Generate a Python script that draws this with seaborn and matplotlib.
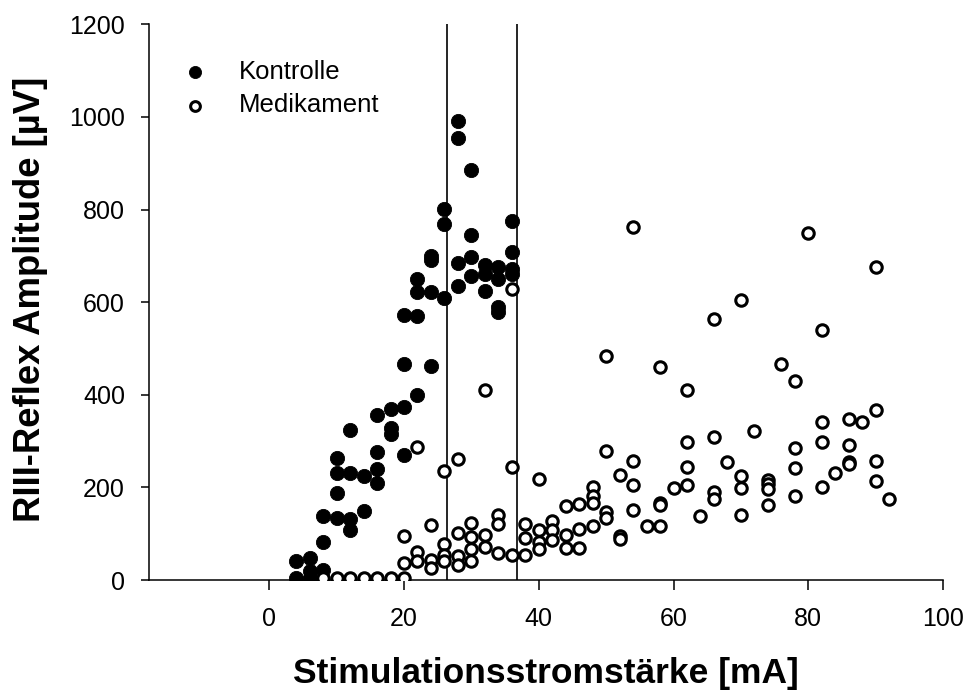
import matplotlib
matplotlib.use("Agg")
import matplotlib.pyplot as plt
import seaborn as sns
import pandas as pd

# ---------------- data ----------------
kontrolle_x = [4, 4, 6, 6, 6, 8, 8, 8, 10, 10, 10, 10, 12, 12, 12, 12, 14, 14,
               16, 16, 16, 16, 18, 18, 18, 20, 20, 20, 20, 22, 22, 22, 22,
               24, 24, 24, 24, 26, 26, 26, 28, 28, 28, 28, 30, 30, 30, 30,
               32, 32, 32, 34, 34, 34, 34, 36, 36, 36, 36]
kontrolle_y = [42, 4, 48, 20, 5, 138, 82, 22, 263, 232, 188, 133, 323, 232, 131, 109, 224, 150,
               356, 277, 239, 210, 369, 329, 315, 466, 374, 269, 573, 400, 650, 621, 571,
               462, 700, 690, 621, 802, 768, 609, 991, 955, 685, 634, 886, 746, 697, 657,
               680, 661, 623, 675, 650, 589, 578, 775, 708, 672, 660]

medikament_x = [8, 10, 12, 14, 16, 18, 20, 20, 20, 22, 22, 22, 24, 24, 24,
                26, 26, 26, 26, 28, 28, 28, 28, 30, 30, 30, 30, 32, 32, 32,
                34, 34, 34, 36, 36, 36, 38, 38, 38, 40, 40, 40, 40, 42, 42, 42,
                44, 44, 44, 46, 46, 46, 48, 48, 48, 48, 50, 50, 50, 50, 52, 52, 52,
                54, 54, 54, 54, 56, 58, 58, 58, 58, 60, 62, 62, 62, 62, 64,
                66, 66, 66, 66, 68, 70, 70, 70, 70, 72, 74, 74, 74, 74, 76,
                78, 78, 78, 78, 80, 82, 82, 82, 82, 84, 86, 86, 86, 86, 88,
                90, 90, 90, 90, 92]
medikament_y = [5, 5, 5, 5, 5, 5, 5, 37, 95, 287, 61, 40, 118, 44, 27,
                235, 77, 55, 40, 262, 102, 51, 33, 123, 92, 67, 42, 410, 97, 71,
                140, 121, 58, 628, 244, 53, 121, 91, 55, 219, 107, 82, 66, 127, 109, 87,
                160, 98, 69, 165, 111, 69, 201, 181, 167, 116, 484, 279, 147, 133, 227, 95, 88,
                762, 258, 206, 152, 116, 459, 167, 162, 116, 198, 411, 299, 244, 206, 138,
                564, 309, 190, 174, 255, 605, 224, 198, 141, 322, 217, 207, 196, 162, 466,
                429, 286, 241, 181, 749, 540, 342, 297, 201, 232, 347, 292, 255, 250, 342,
                675, 367, 257, 214, 176]

threshold_lines = [26.4, 36.7]
series_labels = ["Kontrolle", "Medikament"]
x_ticks = [0, 20, 40, 60, 80, 100]
y_ticks = [0, 200, 400, 600, 800, 1000, 1200]

df_k = pd.DataFrame({"x": kontrolle_x, "y": kontrolle_y})
df_m = pd.DataFrame({"x": medikament_x, "y": medikament_y})

# ---------------- style ----------------
sns.set_style("ticks")
plt.rcParams["font.family"] = ["Liberation Sans", "DejaVu Sans"]
plt.rcParams["text.color"] = "black"
plt.rcParams["axes.labelcolor"] = "black"
plt.rcParams["xtick.color"] = "black"
plt.rcParams["ytick.color"] = "black"

fig = plt.figure(figsize=(9.67, 6.91), dpi=100)
ax = fig.add_axes([0.1544, 0.1606, 0.8208, 0.8043])

for xv in threshold_lines:
    ax.plot([xv, xv], [0, 1200], color="black", lw=1.2, zorder=1)

sns.scatterplot(data=df_k, x="x", y="y", ax=ax, color="black", edgecolor="black",
                linewidth=0.6, s=105, label=series_labels[0], zorder=3)
sns.scatterplot(data=df_m, x="x", y="y", ax=ax, color="white", edgecolor="black",
                linewidth=2.2, s=68, label=series_labels[1], zorder=4)

ax.set_xlim(-17.8, 100)
ax.set_ylim(0, 1200)
ax.set_xticks(x_ticks)
ax.set_yticks(y_ticks)
ax.tick_params(axis="x", length=7.5, width=1.1, pad=12, labelsize=18, colors="black")
ax.tick_params(axis="y", length=5.5, width=1.1, pad=12, labelsize=18, colors="black")
for sp in ["left", "bottom"]:
    ax.spines[sp].set_linewidth(1.1)
    ax.spines[sp].set_color("black")
sns.despine(ax=ax)

ax.set_xlabel("Stimulationsstromstärke [mA]", fontsize=25.5, fontweight="bold", labelpad=19)
ax.set_ylabel("RIII-Reflex Amplitude [µV]", fontsize=26.3, fontweight="bold")
ax.yaxis.set_label_coords(-0.128, 0.505)

leg = ax.legend(loc="upper left", bbox_to_anchor=(182 / 967, 1 - 60 / 691),
                bbox_transform=fig.transFigure, frameon=False, fontsize=18.5,
                handlelength=1.0, handletextpad=1.22, labelspacing=0.36,
                borderpad=0, borderaxespad=0, markerscale=0.85)

fig.savefig("out.png", dpi=100)
